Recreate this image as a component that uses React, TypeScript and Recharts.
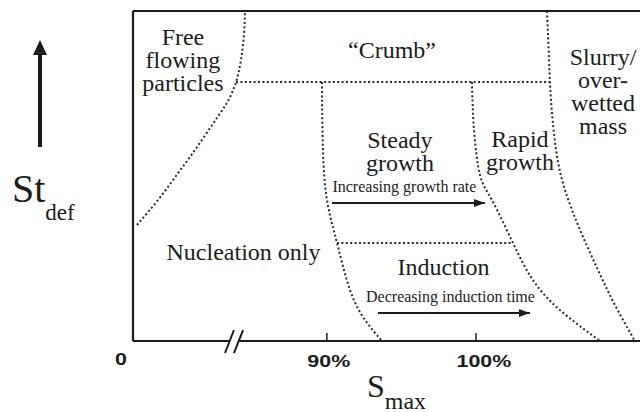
import React from 'react';
import { ComposedChart, Line, Scatter, XAxis, YAxis, ReferenceLine, Label } from 'recharts';

// x: saturation-like units (axis broken between 0 and 90%), y: St_def 0..100
const freeFlowingEdge = [
  { x: 77.27, y: 35.15 },
  { x: 78.01, y: 39.09 },
  { x: 78.94, y: 44.24 },
  { x: 79.88, y: 50.0 },
  { x: 80.82, y: 55.76 },
  { x: 81.76, y: 61.82 },
  { x: 82.63, y: 67.58 },
  { x: 83.37, y: 72.73 },
  { x: 83.91, y: 78.48 },
  { x: 84.24, y: 85.15 },
  { x: 84.44, y: 92.73 },
  { x: 84.51, y: 100 },
];
const crumbEdge = [
  { x: 83.91, y: 78.48 },
  { x: 104.96, y: 78.48 },
];
const nucleationEdge = [
  { x: 89.67, y: 78.48 },
  { x: 89.74, y: 57.88 },
  { x: 90.01, y: 42.73 },
  { x: 90.68, y: 29.7 },
  { x: 91.55, y: 15.45 },
  { x: 92.56, y: 6.36 },
  { x: 93.7, y: 0 },
];
const rapidEdge = [
  { x: 99.73, y: 78.48 },
  { x: 99.87, y: 63.94 },
  { x: 100.27, y: 50.3 },
  { x: 101.07, y: 42.73 },
  { x: 102.48, y: 29.7 },
  { x: 103.82, y: 18.48 },
  { x: 105.63, y: 9.39 },
  { x: 108.32, y: 0 },
];
const inductionEdge = [
  { x: 90.68, y: 29.7 },
  { x: 102.48, y: 29.7 },
];
const slurryEdge = [
  { x: 104.76, y: 100 },
  { x: 104.9, y: 85.15 },
  { x: 105.03, y: 73.03 },
  { x: 105.37, y: 57.88 },
  { x: 105.97, y: 45.76 },
  { x: 106.98, y: 33.64 },
  { x: 108.18, y: 21.52 },
  { x: 109.32, y: 10.91 },
  { x: 110.66, y: 0 },
];
const growthArrow = [
  { x: 90.35, y: 41.82 },
  { x: 100.6, y: 41.82 },
];
const inductionArrow = [
  { x: 93.43, y: 8.48 },
  { x: 103.62, y: 8.48 },
];

const regionLabels = [
  { x: 80.35, y: 89.7, lines: ['Free', 'flowing', 'particles'] },
  { x: 94.37, y: 85.76, lines: ['\u201cCrumb\u201d'] },
  { x: 108.52, y: 83.64, lines: ['Slurry/', 'over-', 'wetted', 'mass'] },
  { x: 94.9, y: 58.48, lines: ['Steady', 'growth'] },
  { x: 102.95, y: 58.79, lines: ['Rapid', 'growth'] },
  { x: 84.41, y: 24.55, lines: ['Nucleation only'] },
  { x: 97.82, y: 20.0, lines: ['Induction'] },
];
const noteLabels = [
  { x: 95.2, y: 45.15, text: 'Increasing growth rate' },
  { x: 98.29, y: 11.82, text: 'Decreasing induction time' },
];

const xTicks = [77, 90, 100];
const xTickLabels = ['0', '90%', '100%'];

const ink = '#1c1c1c';
const serif = '"Liberation Serif", "Times New Roman", serif';
const sans = '"Liberation Sans", Arial, sans-serif';

const tickStyle = { fontFamily: sans, fontWeight: 700, fontSize: '17px' };

// tick labels in the figure use a wide bold face, so the glyphs are stretched
const XTick = (props: any) => {
  const { x, y, payload } = props;
  const i = xTicks.indexOf(payload.value);
  const text = xTickLabels[i];
  if (i === 0) {
    return (
      <text transform={`translate(${x - 6},${y + 24}) scale(1.26,1)`} textAnchor="end" style={tickStyle} fill={ink}>
        {text}
      </text>
    );
  }
  return (
    <g>
      <line x1={x} y1={y} x2={x} y2={y - 8} stroke={ink} strokeWidth={1.5} />
      <text transform={`translate(${x - 19.5},${y + 26}) scale(1.26,1)`} textAnchor="start" style={tickStyle} fill={ink}>
        {text}
      </text>
    </g>
  );
};

const XTitle = (props: any) => {
  const vb = props.viewBox || { x: 133, y: 341 };
  return (
    <text x={vb.x + 234} y={vb.y + 56} fontFamily={serif} fill={ink}>
      <tspan fontSize={32}>S</tspan>
      <tspan fontSize={24} dy={12}>max</tspan>
    </text>
  );
};

const YTitle = (props: any) => {
  const vb = props.viewBox || { x: 0, y: 11 };
  const ax = vb.x + 40;
  const top = vb.y;
  return (
    <g>
      <line x1={ax} y1={top + 136} x2={ax} y2={top + 40} stroke={ink} strokeWidth={4} />
      <polygon points={`${ax},${top + 29} ${ax - 7},${top + 44} ${ax + 7},${top + 44}`} fill={ink} />
      <text x={vb.x + 12} y={top + 191} fontFamily={serif} fill={ink}>
        <tspan fontSize={40}>St</tspan>
        <tspan fontSize={23} dy={18}>def</tspan>
      </text>
    </g>
  );
};

const RegionText = (props: any) => {
  const { cx, cy, payload } = props;
  return (
    <text x={cx} y={cy} textAnchor="middle" fontFamily={serif} fontSize={24} fill={ink}>
      {payload.lines.map((l: string, i: number) => (
        <tspan key={i} x={cx} dy={i === 0 ? 0 : 23}>
          {l}
        </tspan>
      ))}
    </text>
  );
};

const NoteText = (props: any) => {
  const { cx, cy, payload } = props;
  return (
    <text x={cx} y={cy} textAnchor="middle" fontFamily={serif} fontSize={16} fill={ink}>
      {payload.text}
    </text>
  );
};

const ArrowHead = (props: any) => {
  const { cx, cy, index } = props;
  if (index !== 1) return <g key={`a${index}`} />;
  return <polygon key={`a${index}`} points={`${cx},${cy} ${cx - 11},${cy - 4} ${cx - 11},${cy + 4}`} fill={ink} />;
};

const dotted = { stroke: '#2a2a2a', strokeWidth: 2, strokeDasharray: '2 2.4' };

export default function App() {
  return (
    <div style={{ position: 'absolute', left: 0, top: 0, width: 640, height: 413, background: '#fff' }}>
      <ComposedChart width={640} height={413} margin={{ top: 11, right: 0, bottom: 0, left: 0 }}>
        <XAxis
          type="number"
          dataKey="x"
          domain={[77, 111]}
          allowDataOverflow
          ticks={xTicks}
          interval={0}
          height={72}
          axisLine={false}
          tickLine={false}
          tickSize={0}
          tickMargin={0}
          tick={<XTick />}
        >
          <Label content={<XTitle />} />
        </XAxis>
        <YAxis
          type="number"
          dataKey="y"
          domain={[0, 100]}
          allowDataOverflow
          width={133}
          axisLine={false}
          tickLine={false}
          tick={false}
        >
          <Label content={<YTitle />} />
        </YAxis>

        {/* frame and broken x axis */}
        <ReferenceLine segment={[{ x: 77, y: 0 }, { x: 77, y: 100 }]} stroke={ink} strokeWidth={2.2} ifOverflow="visible" />
        <ReferenceLine segment={[{ x: 77, y: 100 }, { x: 111, y: 100 }]} stroke={ink} strokeWidth={2.2} ifOverflow="visible" />
        <ReferenceLine segment={[{ x: 77, y: 0 }, { x: 83.44, y: 0 }]} stroke={ink} strokeWidth={2.2} ifOverflow="visible" />
        <ReferenceLine segment={[{ x: 84.04, y: 0 }, { x: 111, y: 0 }]} stroke={ink} strokeWidth={2.2} ifOverflow="visible" />
        <ReferenceLine segment={[{ x: 83.17, y: -3.64 }, { x: 83.77, y: 3.33 }]} stroke={ink} strokeWidth={2} ifOverflow="visible" />
        <ReferenceLine segment={[{ x: 83.77, y: -3.64 }, { x: 84.38, y: 3.33 }]} stroke={ink} strokeWidth={2} ifOverflow="visible" />

        {/* regime boundaries */}
        <Line data={freeFlowingEdge} dataKey="y" type="natural" dot={false} {...dotted} isAnimationActive={false} />
        <Line data={crumbEdge} dataKey="y" type="linear" dot={false} {...dotted} isAnimationActive={false} />
        <Line data={nucleationEdge} dataKey="y" type="natural" dot={false} {...dotted} isAnimationActive={false} />
        <Line data={rapidEdge} dataKey="y" type="natural" dot={false} {...dotted} isAnimationActive={false} />
        <Line data={inductionEdge} dataKey="y" type="linear" dot={false} {...dotted} isAnimationActive={false} />
        <Line data={slurryEdge} dataKey="y" type="natural" dot={false} {...dotted} isAnimationActive={false} />

        {/* direction arrows */}
        <Line data={growthArrow} dataKey="y" type="linear" stroke={ink} strokeWidth={1.8} dot={<ArrowHead />} activeDot={false} isAnimationActive={false} />
        <Line data={inductionArrow} dataKey="y" type="linear" stroke={ink} strokeWidth={1.8} dot={<ArrowHead />} activeDot={false} isAnimationActive={false} />

        {/* region names */}
        <Scatter data={regionLabels} dataKey="y" shape={<RegionText />} isAnimationActive={false} />
        <Scatter data={noteLabels} dataKey="y" shape={<NoteText />} isAnimationActive={false} />
      </ComposedChart>
    </div>
  );
}
